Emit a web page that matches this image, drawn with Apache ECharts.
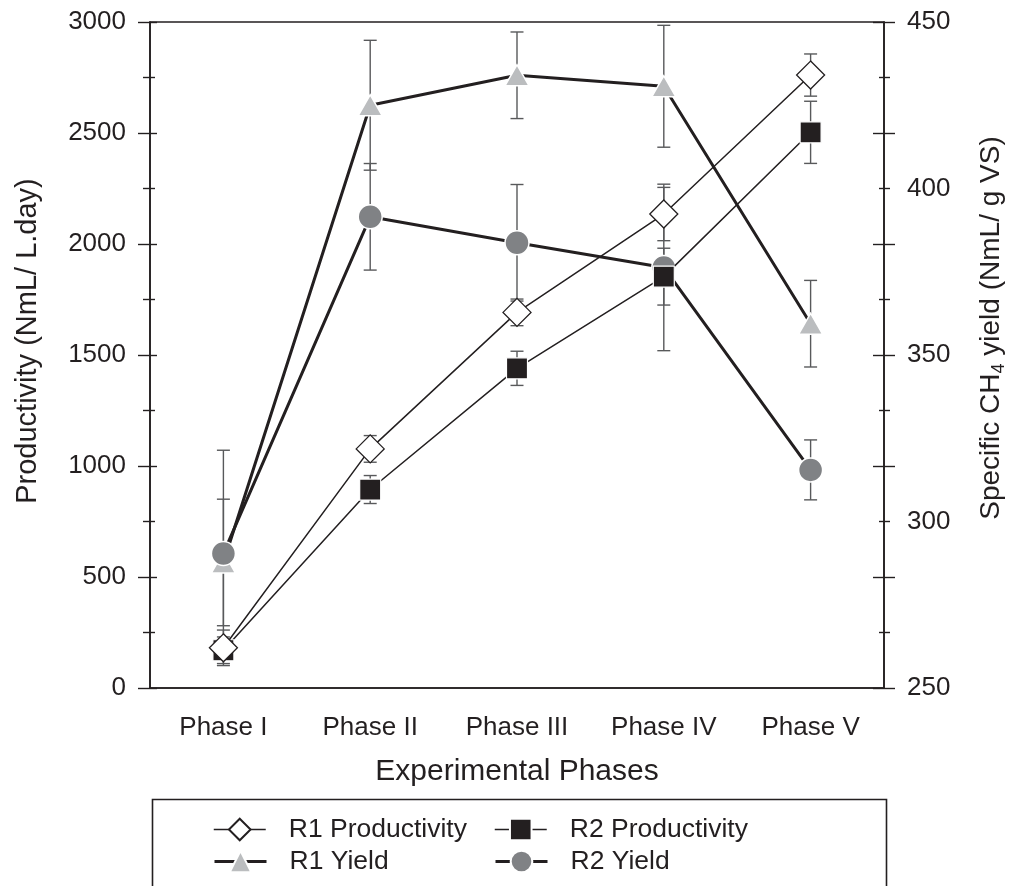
<!DOCTYPE html>
<html>
<head>
<meta charset="utf-8">
<script src="https://cdn.jsdelivr.net/npm/echarts@6/dist/echarts.min.js"></script>
<style>
html,body{margin:0;padding:0;background:#fff;}
#chart{width:1009px;height:886px;}
</style>
</head>
<body>
<div id="chart"></div>
<script>
// ---- data ----
const phases = ['Phase I', 'Phase II', 'Phase III', 'Phase IV', 'Phase V'];
const r1Prod = [181, 1077, 1692, 2135, 2761];
const r1ProdErr = [80, 60, 60, 120, 95];
const r2Prod = [170, 894, 1440, 1853, 2503];
const r2ProdErr = [60, 63, 77, 128, 140];
const r1Yield = [287.7, 425, 434, 430.7, 359.4];
const r1YieldErr = [19, 19.5, 13, 18.3, 13];
const r2Yield = [290.4, 391.5, 383.7, 376.3, 315.5];
const r2YieldErr = [31, 16, 17.5, 25, 9];
const leftRange = [0, 3000, 500];
const rightRange = [250, 450, 50];

// ---- styling ----
const INK = '#231f20';
const FONT = 'Liberation Sans';
const ERR = '#58595b';

function errSeries(name, vals, errs, yIdx) {
  return {
    type: 'custom', name: name + ' err', yAxisIndex: yIdx, z: 1, silent: true,
    data: vals.map((v, i) => [i, v, errs[i]]),
    encode: { x: 0, y: 1 },
    renderItem: function (params, api) {
      const x = api.value(0), v = api.value(1), e = api.value(2);
      const t = api.coord([x, v + e]);
      const b = api.coord([x, v - e]);
      const w = 6.5;
      const st = { stroke: ERR, lineWidth: 1.4 };
      return { type: 'group', children: [
        { type: 'line', shape: { x1: t[0], y1: t[1], x2: b[0], y2: b[1] }, style: st },
        { type: 'line', shape: { x1: t[0] - w, y1: t[1], x2: t[0] + w, y2: t[1] }, style: st },
        { type: 'line', shape: { x1: b[0] - w, y1: b[1], x2: b[0] + w, y2: b[1] }, style: st }
      ]};
    }
  };
}

const tickLabel = { fontSize: 26, color: INK, fontFamily: FONT, formatter: v => String(v) };
const catLabel = { fontSize: 26, color: INK, fontFamily: FONT };
const noLine = { show: false };

const legendCommon = {
  itemWidth: 52, itemHeight: 27, padding: 0, selectedMode: false,
  textStyle: { fontSize: 26.5, color: INK, fontFamily: FONT, padding: [0, 0, 0, 18] }
};

const chart = echarts.init(document.getElementById('chart'), null, { renderer: 'canvas' });
chart.setOption({
  animation: false,
  backgroundColor: '#fff',
  grid: { left: 150, right: 125, top: 22, bottom: 198, show: true, borderColor: INK, borderWidth: 1.6, outerBoundsMode: 'none' },
  xAxis: [
    {
      type: 'category', data: phases, boundaryGap: true, position: 'bottom',
      axisLine: { lineStyle: { color: INK, width: 1.6 } },
      axisTick: { alignWithLabel: true, length: 11, lineStyle: { color: INK, width: 1.4 } },
      axisLabel: Object.assign({ margin: 27 }, catLabel),
      splitLine: noLine,
      name: 'Experimental Phases', nameLocation: 'middle', nameGap: 69,
      nameTextStyle: { fontSize: 30, color: INK, fontFamily: FONT }
    },
    {
      type: 'category', data: phases, boundaryGap: true, position: 'bottom',
      axisLine: noLine, axisLabel: noLine, splitLine: noLine,
      axisTick: { alignWithLabel: true, inside: true, length: 11, lineStyle: { color: INK, width: 1.4 } }
    }
  ],
  yAxis: [
    {
      type: 'value', position: 'left', min: leftRange[0], max: leftRange[1], interval: leftRange[2],
      axisLine: { show: true, lineStyle: { color: INK, width: 1.6 } },
      axisTick: { show: true, length: 12, lineStyle: { color: INK, width: 1.4 } },
      minorTick: { show: true, splitNumber: 2, length: 7, lineStyle: { color: INK, width: 1.4 } },
      axisLabel: Object.assign({ margin: 24 }, tickLabel),
      splitLine: noLine, minorSplitLine: noLine,
      name: 'Productivity (NmL/ L.day)', nameLocation: 'middle', nameRotate: 90, nameGap: 108,
      nameTextStyle: { fontSize: 29, color: INK, fontFamily: FONT, padding: [0, 0, 0, 28] }
    },
    {
      type: 'value', position: 'right', min: rightRange[0], max: rightRange[1], interval: rightRange[2],
      axisLine: { show: true, lineStyle: { color: INK, width: 1.6 } },
      axisTick: { show: false },
      axisLabel: Object.assign({ margin: 23 }, tickLabel),
      splitLine: noLine,
      name: 'Specific CH{sub|4} yield (NmL/ g VS)', nameLocation: 'middle', nameRotate: 90, nameGap: 90,
      nameTextStyle: {
        fontSize: 28, color: INK, fontFamily: FONT, padding: [0, 0, 0, 54],
        rich: { sub: { fontSize: 18, color: INK, fontFamily: FONT, padding: [16, 0, 0, 0] } }
      }
    },
    {
      type: 'value', position: 'left', min: leftRange[0], max: leftRange[1], interval: leftRange[2],
      axisLine: noLine, axisLabel: noLine, splitLine: noLine,
      axisTick: { show: true, inside: true, length: 7, lineStyle: { color: INK, width: 1.4 } },
      minorTick: { show: true, splitNumber: 2, length: 5, lineStyle: { color: INK, width: 1.4 } }
    },
    {
      type: 'value', position: 'right', min: leftRange[0], max: leftRange[1], interval: leftRange[2],
      axisLine: noLine, axisLabel: noLine, splitLine: noLine,
      axisTick: { show: true, length: 11, lineStyle: { color: INK, width: 1.4 } },
      minorTick: { show: true, splitNumber: 2, length: 6, lineStyle: { color: INK, width: 1.4 } }
    },
    {
      type: 'value', position: 'right', min: leftRange[0], max: leftRange[1], interval: leftRange[2],
      axisLine: noLine, axisLabel: noLine, splitLine: noLine,
      axisTick: { show: true, inside: true, length: 11, lineStyle: { color: INK, width: 1.4 } },
      minorTick: { show: true, splitNumber: 2, length: 5, lineStyle: { color: INK, width: 1.4 } }
    }
  ],
  legend: [
    Object.assign({ data: ['R1 Productivity'], left: 213, top: 816, lineStyle: { width: 1.5 } }, legendCommon),
    Object.assign({ data: ['R2 Productivity'], left: 494, top: 816, lineStyle: { width: 1.5 } }, legendCommon),
    Object.assign({ data: ['R1 Yield'], left: 213, top: 848, lineStyle: { width: 3 } }, legendCommon),
    Object.assign({ data: ['R2 Yield'], left: 494, top: 848, lineStyle: { width: 3 } }, legendCommon)
  ],
  graphic: [
    { type: 'rect', left: 150, top: 797, shape: { width: 734, height: 100 },
      style: { fill: 'none', stroke: INK, lineWidth: 1.6 }, silent: true }
  ],
  series: [
    errSeries('R1 Yield', r1Yield, r1YieldErr, 1),
    errSeries('R2 Yield', r2Yield, r2YieldErr, 1),
    errSeries('R1 Productivity', r1Prod, r1ProdErr, 0),
    errSeries('R2 Productivity', r2Prod, r2ProdErr, 0),
    {
      type: 'line', name: 'R1 Yield', data: r1Yield, yAxisIndex: 1, z: 3,
      symbol: 'triangle', symbolSize: [24, 21],
      itemStyle: { color: '#bbbdbf', borderColor: '#fff', borderWidth: 1.5 },
      lineStyle: { color: INK, width: 3 }
    },
    {
      type: 'line', name: 'R2 Yield', data: r2Yield, yAxisIndex: 1, z: 4,
      symbol: 'circle', symbolSize: 24,
      itemStyle: { color: '#808285', borderColor: '#fff', borderWidth: 1.5 },
      lineStyle: { color: INK, width: 3 }
    },
    {
      type: 'line', name: 'R2 Productivity', data: r2Prod, yAxisIndex: 0, z: 5,
      symbol: 'rect', symbolSize: 21,
      itemStyle: { color: INK, borderColor: '#fff', borderWidth: 1.2 },
      lineStyle: { color: INK, width: 1.5 }
    },
    {
      type: 'line', name: 'R1 Productivity', data: r1Prod, yAxisIndex: 0, z: 6,
      symbol: 'diamond', symbolSize: 28,
      itemStyle: { color: '#fff', borderColor: INK, borderWidth: 1.3 },
      lineStyle: { color: INK, width: 1.5 }
    }
  ]
});
</script>
</body>
</html>
